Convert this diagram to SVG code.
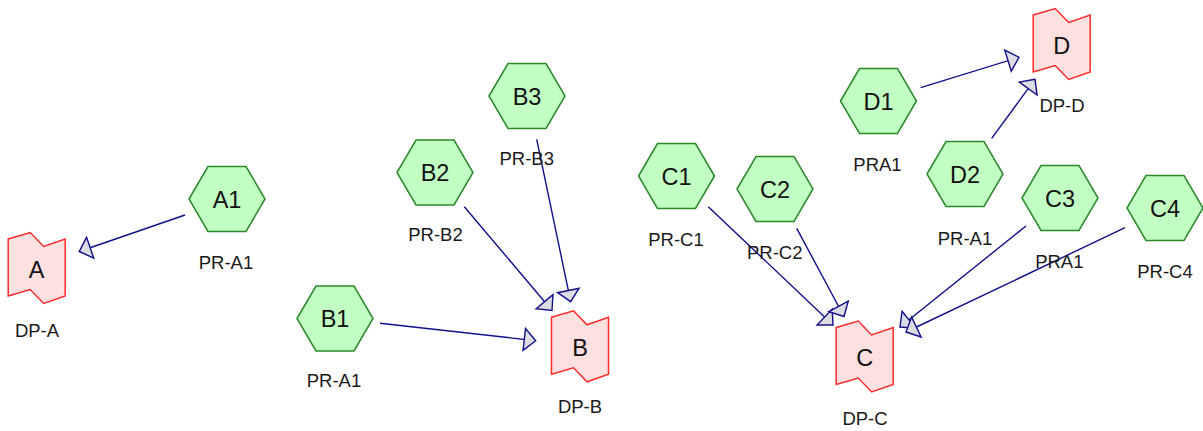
<svg xmlns="http://www.w3.org/2000/svg" xmlns:xlink="http://www.w3.org/1999/xlink" width="1203" height="431" viewBox="0 0 1203 431">
<style>
.hex{fill:#c2ffc2;stroke:#2a8a2a;stroke-width:1.5}
.dp{fill:#ffe0e0;stroke:#ff2a2a;stroke-width:1.5}
.nt{font-family:"Liberation Sans",Arial,sans-serif;font-size:23.5px;fill:#111;text-anchor:middle}
.lb{font-family:"Liberation Sans",Arial,sans-serif;font-size:18.5px;fill:#1a1a1a;text-anchor:middle}
.edge{stroke:#10108a;stroke-width:1.4;fill:none;marker-end:url(#arr)}
</style>
<defs>
<polygon id="hexshape" points="-38,0 -19,-32.5 19,-32.5 38,0 19,32.5 -19,32.5"/>
<path id="dpshape" d="M-28.5,-28.5 L-6.5,-35 L7,-21 L28.5,-28.5 L28.5,28.5 L7,36 L-6.5,22 L-28.5,28.5 Z"/>
<marker id="arr" markerUnits="userSpaceOnUse" viewBox="-14 -13 16 26" refX="0" refY="0" markerWidth="16" markerHeight="26" orient="auto">
<path d="M0,0 L-11.5,-11 L-11.5,11 Z" fill="#dcdce2" stroke="#10108a" stroke-width="1.4" stroke-linejoin="miter"/>
</marker>
</defs>
<g id="connectors">
<line class="edge" x1="185" y1="215" x2="79.3" y2="251.5"/>
<line class="edge" x1="380" y1="323.3" x2="535.7" y2="340.7"/>
<line class="edge" x1="464.3" y1="206.7" x2="552" y2="310.5"/>
<line class="edge" x1="536.7" y1="139.3" x2="570.7" y2="301.7"/>
<line class="edge" x1="708.3" y1="206.7" x2="833" y2="325"/>
<line class="edge" x1="796.7" y1="228.3" x2="844" y2="316.5"/>
<line class="edge" x1="1026" y1="226" x2="900" y2="327"/>
<line class="edge" x1="1125" y1="227.7" x2="906" y2="332"/>
<line class="edge" x1="920.7" y1="87.7" x2="1019" y2="57.3"/>
<line class="edge" x1="991.7" y1="138.3" x2="1035" y2="79.3"/>
</g>
<g id="node-A1"><use xlink:href="#hexshape" class="hex" transform="translate(227,199)"/><text class="nt" x="227" y="207.5">A1</text><text class="lb" x="226" y="269">PR-A1</text></g>
<g id="node-B1"><use xlink:href="#hexshape" class="hex" transform="translate(335,318.5)"/><text class="nt" x="335" y="327">B1</text><text class="lb" x="334" y="386.5">PR-A1</text></g>
<g id="node-B2"><use xlink:href="#hexshape" class="hex" transform="translate(435,172.5)"/><text class="nt" x="435" y="181">B2</text><text class="lb" x="435.5" y="241">PR-B2</text></g>
<g id="node-B3"><use xlink:href="#hexshape" class="hex" transform="translate(527,96)"/><text class="nt" x="527" y="104.5">B3</text><text class="lb" x="526.7" y="165">PR-B3</text></g>
<g id="node-C1"><use xlink:href="#hexshape" class="hex" transform="translate(676.5,176)"/><text class="nt" x="676.5" y="184.5">C1</text><text class="lb" x="676" y="246">PR-C1</text></g>
<g id="node-C2"><use xlink:href="#hexshape" class="hex" transform="translate(775,189)"/><text class="nt" x="775" y="197.5">C2</text><text class="lb" x="774.7" y="259.3">PR-C2</text></g>
<g id="node-D1"><use xlink:href="#hexshape" class="hex" transform="translate(878.5,101)"/><text class="nt" x="878.5" y="109.5">D1</text><text class="lb" x="877.5" y="170.7">PRA1</text></g>
<g id="node-D2"><use xlink:href="#hexshape" class="hex" transform="translate(965,174)"/><text class="nt" x="965" y="182.5">D2</text><text class="lb" x="965" y="245">PR-A1</text></g>
<g id="node-C3"><use xlink:href="#hexshape" class="hex" transform="translate(1060,198)"/><text class="nt" x="1060" y="206.5">C3</text><text class="lb" x="1059.3" y="268.3">PRA1</text></g>
<g id="node-C4"><use xlink:href="#hexshape" class="hex" transform="translate(1165,208)"/><text class="nt" x="1165" y="216.5">C4</text><text class="lb" x="1165" y="278.3">PR-C4</text></g>
<g id="node-A"><use xlink:href="#dpshape" class="dp" transform="translate(36.7,267.5)"/><text class="nt" x="36.7" y="277.5">A</text><text class="lb" x="37" y="336.7">DP-A</text></g>
<g id="node-B"><use xlink:href="#dpshape" class="dp" transform="translate(580,345.8)"/><text class="nt" x="580" y="355.8">B</text><text class="lb" x="580" y="413.3">DP-B</text></g>
<g id="node-C"><use xlink:href="#dpshape" class="dp" transform="translate(864.7,356)"/><text class="nt" x="864.7" y="366">C</text><text class="lb" x="865" y="425">DP-C</text></g>
<g id="node-D"><use xlink:href="#dpshape" class="dp" transform="translate(1061.7,43.5)"/><text class="nt" x="1061.7" y="53.5">D</text><text class="lb" x="1062" y="111.7">DP-D</text></g>
</svg>
